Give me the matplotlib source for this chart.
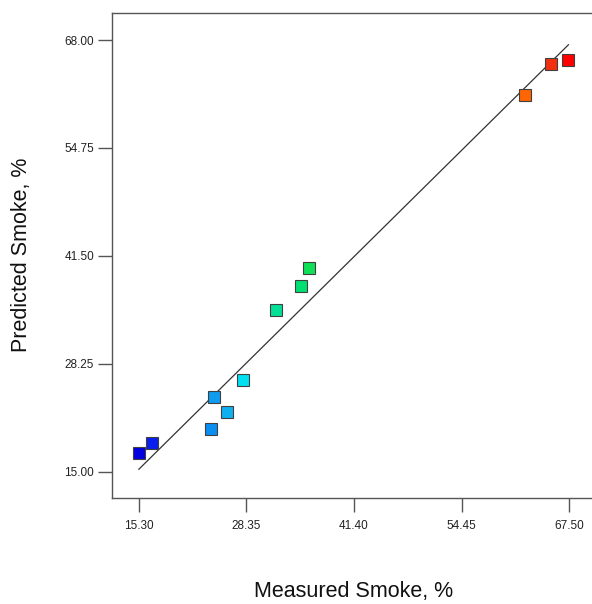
import matplotlib
matplotlib.use('Agg')
import matplotlib.pyplot as plt

plt.rcParams['font.family'] = ['Liberation Sans', 'DejaVu Sans']

# measured vs predicted smoke (%)
measured = [15.30, 16.91, 24.00, 24.40, 25.94, 27.96, 31.95, 34.97, 35.98, 62.10, 65.36, 67.42]
predicted = [17.30, 18.49, 20.20, 24.20, 22.30, 26.26, 34.85, 37.76, 40.05, 61.25, 65.05, 65.54]
colors = ['#0000e0', '#0a1eee', '#0a8ef0', '#0f9bf0', '#10b0f0', '#00e0f0',
          '#00e096', '#00e070', '#10e058', '#ff6600', '#f03010', '#ff0000']

xticks = [15.30, 28.35, 41.40, 54.45, 67.50]
yticks = [15.00, 28.25, 41.50, 54.75, 68.00]

fig = plt.figure(figsize=(5.92, 6.04), dpi=100)
ax = fig.add_axes([112 / 592, 106 / 604, 488 / 592, 485 / 604])

# y = x reference line
lo, hi = min(measured), max(measured)
ax.plot([lo, hi], [lo, hi], color='#333333', linewidth=0.9, zorder=2)

for x, y, c in zip(measured, predicted, colors):
    ax.plot(x, y, marker='s', markersize=8.2, markerfacecolor=c,
            markeredgecolor='#404040', markeredgewidth=0.8,
            linestyle='none', zorder=3)

ax.set_xlim(12.04, 71.25)
ax.set_ylim(11.77, 71.32)
ax.set_xticks(xticks)
ax.set_yticks(yticks)
ax.set_xticklabels([f'{t:.2f}' for t in xticks])
ax.set_yticklabels([f'{t:.2f}' for t in yticks])
ax.tick_params(direction='out', length=10, width=1, color='#555555',
               labelsize=8.5, labelcolor='#222222', pad=3)
ax.tick_params(axis='x', pad=6)
for s in ax.spines.values():
    s.set_color('#555555')
    s.set_linewidth(1)

fig.text(354 / 592, 1 - 592 / 604, 'Measured Smoke, %', fontsize=15.5,
         ha='center', va='center', color='#111111')
fig.text(22 / 592, 1 - 255 / 604, 'Predicted Smoke, %', fontsize=15.5,
         ha='center', va='center', rotation=90, color='#111111')

fig.savefig('out.png', dpi=100)
